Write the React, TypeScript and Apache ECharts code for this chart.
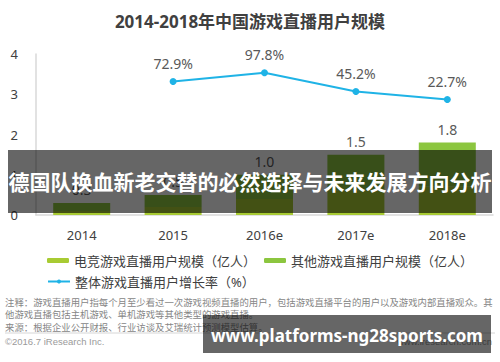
import React, { useEffect, useRef } from "react";
import * as echarts from "echarts";

const categories = ["2014", "2015", "2016e", "2017e", "2018e"];
const esportsUsers = [0.1, 0.2, 0.4, 0.6, 0.7];
const otherUsers = [0.2, 0.3, 0.6, 0.9, 1.1];
const growthRate: (number | null)[] = [null, 72.9, 97.8, 45.2, 22.7];
const leftTicks = [0, 1, 2, 3, 4];

const seriesNames = [
  "电竞游戏直播用户规模（亿人）",
  "其他游戏直播用户规模（亿人）",
  "整体游戏直播用户增长率（%）",
];

const noteLines = [
  "注释：游戏直播用户指每个月至少看过一次游戏视频直播的用户，包括游戏直播平台的用户以及游戏内部直播观众。其",
  "他游戏直播包括主机游戏、单机游戏等其他类型的游戏直播。",
  "来源：根据企业公开财报、行业访谈及艾瑞统计预测模型估算。",
];

const FONT = "'Noto Sans', 'Noto Sans CJK SC', sans-serif";
const CJK_FONT = "'Noto Sans CJK SC', 'Noto Sans', sans-serif";

export default function App() {
  const ref = useRef<HTMLDivElement>(null);

  useEffect(() => {
    document.body.style.margin = "0";
    const chart = echarts.init(ref.current!, null, { renderer: "svg" });
    const legendText = { fontSize: 13, color: "#404040", fontFamily: FONT, width: 176 };
    chart.setOption({
      animation: false,
      backgroundColor: "#ffffff",
      textStyle: { fontFamily: FONT },
      title: {
        text: "2014-2018年中国游戏直播用户规模",
        left: "center",
        top: 8,
        textStyle: { fontSize: 17, fontWeight: "bold", color: "#404040", fontFamily: FONT },
      },
      legend: [
        {
          left: 47,
          top: 254,
          padding: 0,
          itemGap: 8,
          itemWidth: 22,
          itemHeight: 5,
          data: [seriesNames[0], seriesNames[1]],
          textStyle: legendText,
        },
        {
          left: 47,
          top: 275,
          padding: 0,
          itemGap: 8,
          itemWidth: 22,
          itemHeight: 5,
          data: [seriesNames[2]],
          textStyle: legendText,
        },
      ],
      grid: { left: 36, right: 7, top: 54, bottom: 147, containLabel: false },
      xAxis: {
        type: "category",
        data: categories,
        axisLine: { lineStyle: { color: "#d9d9d9", width: 1.5 } },
        axisTick: { show: false },
        axisLabel: { color: "#404040", fontSize: 13, margin: 13, fontFamily: FONT },
      },
      yAxis: [
        {
          type: "value",
          min: leftTicks[0],
          max: leftTicks[leftTicks.length - 1],
          interval: 1,
          axisLine: { show: true, lineStyle: { color: "#d9d9d9", width: 1.5 } },
          axisTick: { show: false },
          splitLine: { show: false },
          axisLabel: { color: "#404040", fontSize: 13, margin: 18, fontFamily: FONT },
        },
        {
          type: "value",
          min: -300,
          max: 150,
          show: false,
          splitLine: { show: false },
        },
      ],
      series: [
        {
          name: seriesNames[0],
          type: "bar",
          stack: "users",
          barWidth: 57,
          data: esportsUsers,
          itemStyle: { color: "#a8cb33" },
        },
        {
          name: seriesNames[1],
          type: "bar",
          stack: "users",
          barWidth: 57,
          data: otherUsers,
          itemStyle: { color: "#8cc63f" },
          label: {
            show: true,
            position: "top",
            distance: 6,
            color: "#595959",
            fontSize: 14,
            fontFamily: FONT,
            formatter: (p: any) =>
              (esportsUsers[p.dataIndex] + otherUsers[p.dataIndex]).toFixed(1),
          },
        },
        {
          name: seriesNames[2],
          type: "line",
          yAxisIndex: 1,
          data: growthRate,
          symbol: "circle",
          symbolSize: 7,
          lineStyle: { color: "#1fb3e6", width: 2 },
          itemStyle: { color: "#1fb3e6" },
          label: {
            show: true,
            position: "top",
            distance: 8,
            color: "#595959",
            fontSize: 14,
            fontFamily: FONT,
            formatter: (p: any) => p.value.toFixed(1) + "%",
          },
        },
      ],
      graphic: [
        ...noteLines.map((t, i) => ({
          type: "text",
          left: 5,
          top: 297 + i * 12.5,
          z: 10,
          style: { text: t, fontSize: 9.4, fill: "#868686", fontFamily: CJK_FONT },
        })),
        {
          type: "line",
          z: 10,
          shape: { x1: 5, y1: 333, x2: 495, y2: 333 },
          style: { stroke: "#d6d6d6", lineWidth: 1 },
        },
        {
          type: "text",
          left: 5,
          top: 336,
          z: 10,
          style: { text: "©2016.7 iResearch Inc.", fontSize: 9.5, fill: "#9a9a9a", fontFamily: "'Liberation Sans', sans-serif" },
        },
        {
          type: "text",
          right: 8,
          top: 336,
          z: 10,
          style: { text: "www.iresearch.com.cn", fontSize: 9.5, fill: "#9a9a9a", fontFamily: "'Liberation Sans', sans-serif" },
        },
        {
          type: "rect",
          z: 100,
          shape: { x: 8, y: 150, width: 484, height: 63 },
          style: { fill: "rgba(0,0,0,0.6)" },
        },
        {
          type: "text",
          z: 101,
          x: 250,
          y: 182,
          style: {
            text: "德国队换血新老交替的必然选择与未来发展方向分析",
            fontSize: 21,
            fontWeight: "bold",
            fill: "#ffffff",
            align: "center",
            verticalAlign: "middle",
            fontFamily: FONT,
          },
        },
        {
          type: "rect",
          z: 100,
          shape: { x: 203, y: 315, width: 288, height: 38 },
          style: { fill: "rgba(0,0,0,0.6)" },
        },
        {
          type: "text",
          z: 101,
          x: 347,
          y: 335,
          style: {
            text: "www.platforms-ng28sports.com",
            fontSize: 17,
            fontWeight: "bold",
            fill: "#ffffff",
            align: "center",
            verticalAlign: "middle",
            fontFamily: FONT,
          },
        },
      ],
    });
    return () => chart.dispose();
  }, []);

  return <div ref={ref} style={{ width: 500, height: 362 }} />;
}
